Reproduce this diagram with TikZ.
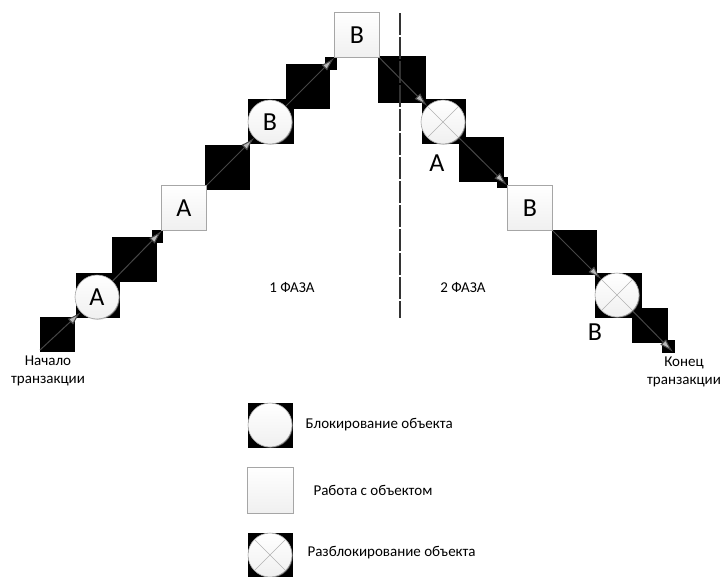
\documentclass[tikz,border=0pt]{standalone}
\usepackage{fontspec}
\setmainfont{Carlito}
\usepackage{tikz}
\usetikzlibrary{arrows,arrows.meta,shapes,positioning,shadows}

\begin{document}
\begin{tikzpicture}[x=1pt, y=-1pt,
        lock/.style={draw=gray!70, line width=0.6pt, circle, minimum size=44pt, inner sep=0pt,
            top color=white, bottom color=gray!12,
            drop shadow={shadow xshift=0.8pt, shadow yshift=-0.8pt, fill=gray!80},
            font=\fontsize{26}{28}\selectfont},
        work/.style={lock, rectangle, minimum size=45pt},
        unlock/.style={lock, path picture={
            \draw[gray!60, line width=0.5pt] (path picture bounding box.north west) -- (path picture bounding box.south east)
                (path picture bounding box.south west) -- (path picture bounding box.north east);}},
        blk/.style={fill=black},
        arr/.style={-{Latex[length=14pt,width=8pt,fill=gray!55]}, draw=gray!55!black, line width=1pt},
        big/.style={font=\fontsize{26}{28}\selectfont},
        lbl/.style={font=\fontsize{15}{18}\selectfont, align=center}]
        \useasboundingbox (0,0) rectangle (723,576);

        % black blocks
        \fill[blk] (40,317) rectangle (75,352);
        \fill[blk] (76,273) rectangle (120,318);
        \fill[blk] (112,237) rectangle (157,282);
        \fill[blk] (152,230) rectangle (163,243);
        \fill[blk] (205,145) rectangle (250,190);
        \fill[blk] (248,99) rectangle (294,144);
        \fill[blk] (286,64) rectangle (330,109);
        \fill[blk] (325,57) rectangle (337,70);
        \fill[blk] (378,56) rectangle (426,103);
        \fill[blk] (422,99) rectangle (466,144);
        \fill[blk] (459,137) rectangle (504,182);
        \fill[blk] (497,177) rectangle (508,188);
        \fill[blk] (552,230) rectangle (597,275);
        \fill[blk] (595,273) rectangle (642,318);
        \fill[blk] (632,308) rectangle (668,343);
        \fill[blk] (662,340) rectangle (675,353);
        \fill[blk] (248,403) rectangle (293,448);
        \fill[blk] (248,533) rectangle (293,578);

        \draw[black!80, line width=2.8pt, dash pattern=on 22pt off 2pt] (400,13) -- (400,318);

        \coordinate (nach) at (40,350);
        \coordinate (kon) at (673,352);

        \node[lock] (lockA) at (97,297) {A};
        \node[work] (workA) at (184,208) {A};
        \node[lock] (lockB) at (270,122) {B};
        \node[work] (workB) at (357,35) {B};
        \node[unlock] (unlA) at (443,122) {};
        \node[work] (workBB) at (530,208) {B};
        \node[unlock] (unlB) at (617,295) {};

        \node[big] (unlAlbl) at (437,163) {A};
        \node[big] (unlBlbl) at (595,332) {B};

        \draw[arr] (nach) -- (lockA);
        \draw[arr] (lockA) -- (workA);
        \draw[arr] (workA) -- (lockB);
        \draw[arr] (lockB) -- (workB);
        \draw[arr] (workB) -- (unlA);
        \draw[arr] (unlA) -- (workBB);
        \draw[arr] (workBB) -- (unlB);
        \draw[arr] (unlB) -- (kon);

        \node[lbl] (nachlbl) at (48,371) {Начало\\транзакции};
        \node[lbl] (konlbl) at (684,372) {Конец\\транзакции};

        \node[lbl] (faza1) at (292,288) {1 ФАЗА};
        \node[lbl] (faza2) at (463,288) {2 ФАЗА};

        % legend
        \node[lock] (legLock) at (270,425) {};
        \node[work, minimum size=46pt] (legWork) at (270,490) {};
        \node[unlock] (legUnl) at (270,555) {};
        \node[lbl, anchor=west] (legLockT) at (302,425) {Блокирование объекта};
        \node[lbl, anchor=west] (legWorkT) at (310,490) {Работа с объектом};
        \node[lbl, anchor=west] (legUnlT) at (304,553) {Разблокирование объекта};
\end{tikzpicture}
\end{document}
